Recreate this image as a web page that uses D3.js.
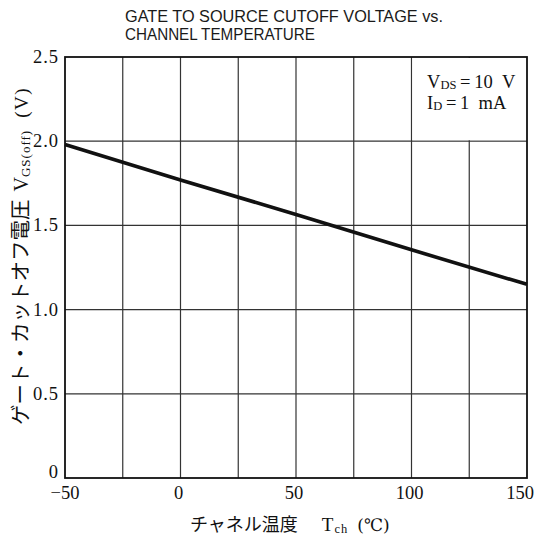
<!DOCTYPE html>
<html>
<head>
<meta charset="utf-8">
<script src="https://cdn.jsdelivr.net/npm/d3@7"></script>
<style>
  html, body { margin: 0; padding: 0; background: #ffffff; }
  svg { display: block; }
</style>
</head>
<body>
<script>
// ---- data ----
const titleLines = ["GATE TO SOURCE CUTOFF VOLTAGE vs.", "CHANNEL TEMPERATURE"];
const temps = [-50, 0, 50, 100, 150];           // channel temperature (°C)
const vgsOff = [1.98, 1.77, 1.565, 1.355, 1.15]; // V_GS(off) (V)
const xTicks = [-50, -25, 0, 25, 50, 75, 100, 125, 150];
const xTickLabels = ["−50", "0", "50", "100", "150"];
const xLabelValues = [-50, 0, 50, 100, 150];
const yTicks = [0, 0.5, 1.0, 1.5, 2.0, 2.5];
const yTickLabels = ["0", "0.5", "1.0", "1.5", "2.0", "2.5"];
const conditions = [["V", "DS", "\u2009=\u200910\u2002V"], ["I", "D", "\u2009=\u20091\u2002mA"]];

const W = 537, H = 540;
const margin = { left: 65, right: 10, top: 57, bottom: 62 };
const svg = d3.select("body").append("svg").attr("width", W).attr("height", H);

const x = d3.scaleLinear().domain([-50, 150]).range([margin.left, W - margin.right]);
const y = d3.scaleLinear().domain([0, 2.5]).range([H - margin.bottom, margin.top]);

const serif = "'Liberation Serif', 'DejaVu Serif', serif";
const jp = "'Noto Sans CJK JP', sans-serif";

// ---- title ----
const titleLens = [318, 190];
titleLines.forEach((t, i) => {
  svg.append("text")
    .attr("x", 125).attr("y", 21.5 + i * 18.5)
    .attr("font-family", "'Liberation Sans', Arial, sans-serif")
    .attr("font-size", 16)
    .attr("fill", "#1a1a1a")
    .attr("textLength", titleLens[i])
    .attr("lengthAdjust", "spacingAndGlyphs")
    .text(t);
});

// ---- grid ----
const g = svg.append("g");
g.selectAll("line.vx").data(xTicks.slice(1, -1)).join("line")
  .attr("x1", d => x(d)).attr("x2", d => x(d))
  .attr("y1", y(0)).attr("y2", y(2.5))
  .attr("stroke", "#333").attr("stroke-width", 1.2);
g.selectAll("line.hy").data(yTicks.slice(1, -1)).join("line")
  .attr("x1", x(-50)).attr("x2", x(150))
  .attr("y1", d => y(d)).attr("y2", d => y(d))
  .attr("stroke", "#333").attr("stroke-width", 1.2);

// annotation cell (covers the 125 °C gridline in top row)
g.append("rect")
  .attr("x", x(100) + 1).attr("y", y(2.5) + 1)
  .attr("width", x(150) - x(100) - 2).attr("height", y(2.0) - y(2.5) - 2)
  .attr("fill", "#fff");

// frame
g.append("rect")
  .attr("x", x(-50)).attr("y", y(2.5))
  .attr("width", x(150) - x(-50)).attr("height", y(0) - y(2.5))
  .attr("fill", "none").attr("stroke", "#111").attr("stroke-width", 1.8);

// ---- data line ----
const pts = temps.map((t, i) => [t, vgsOff[i]]);
svg.append("path")
  .datum(pts)
  .attr("d", d3.line().x(d => x(d[0])).y(d => y(d[1])))
  .attr("fill", "none").attr("stroke", "#111").attr("stroke-width", 3.6);

// ---- tick labels ----
svg.selectAll("text.yt").data(yTicks).join("text")
  .attr("x", 59)
  .attr("y", d => y(d) + (d === 0 ? 0 : 6))
  .attr("text-anchor", "end")
  .attr("font-family", serif).attr("font-size", 18.5).attr("fill", "#111")
  .attr("letter-spacing", 1)
  .text((d, i) => yTickLabels[i]);

svg.selectAll("text.xt").data(xLabelValues).join("text")
  .attr("x", d => d === 150 ? W - 3 : x(d) - (d === -50 ? 0 : 2))
  .attr("y", 499)
  .attr("text-anchor", d => d === 150 ? "end" : "middle")
  .attr("font-family", serif).attr("font-size", 18.5).attr("fill", "#111")
  .text((d, i) => xTickLabels[i]);

// ---- annotation ----
conditions.forEach((c, i) => {
  const t = svg.append("text")
    .attr("x", 427).attr("y", 88 + i * 21)
    .attr("font-family", serif).attr("font-size", 18.5).attr("fill", "#111");
  t.append("tspan").text(c[0]);
  t.append("tspan").attr("font-size", 12.5).attr("dy", 1).text(c[1]);
  t.append("tspan").attr("dy", -1).text(c[2]);
});

// ---- axis titles ----
const xl = svg.append("text")
  .attr("x", 190).attr("y", 531)
  .attr("font-family", jp).attr("font-size", 18).attr("fill", "#111");
xl.append("tspan").text("チャネル温度");
xl.append("tspan").attr("dx", 24).attr("font-family", serif).attr("font-size", 19).text("T");
xl.append("tspan").attr("font-family", serif).attr("font-size", 12.5).attr("dy", 2).attr("dx", 1).attr("letter-spacing", 1).text("ch");
xl.append("tspan").attr("font-family", "'DejaVu Serif', serif").attr("font-size", 17).attr("dy", -2).attr("dx", 9).text("(℃)");

const yl = svg.append("text")
  .attr("transform", `translate(28, ${425}) rotate(-90)`)
  .attr("text-anchor", "start")
  .attr("font-family", jp).attr("font-size", 20.5).attr("fill", "#111");
yl.append("tspan").text("ゲート・カットオフ電圧");
yl.append("tspan").attr("dx", 8).attr("font-family", serif).attr("font-size", 20).text("V");
yl.append("tspan").attr("font-family", serif).attr("font-size", 13).attr("dy", 2).attr("letter-spacing", 1).text("GS(off)");
yl.append("tspan").attr("font-family", serif).attr("font-size", 19).attr("dy", -2).attr("dx", 12).attr("letter-spacing", 1.5).text("(V)");
</script>
</body>
</html>
